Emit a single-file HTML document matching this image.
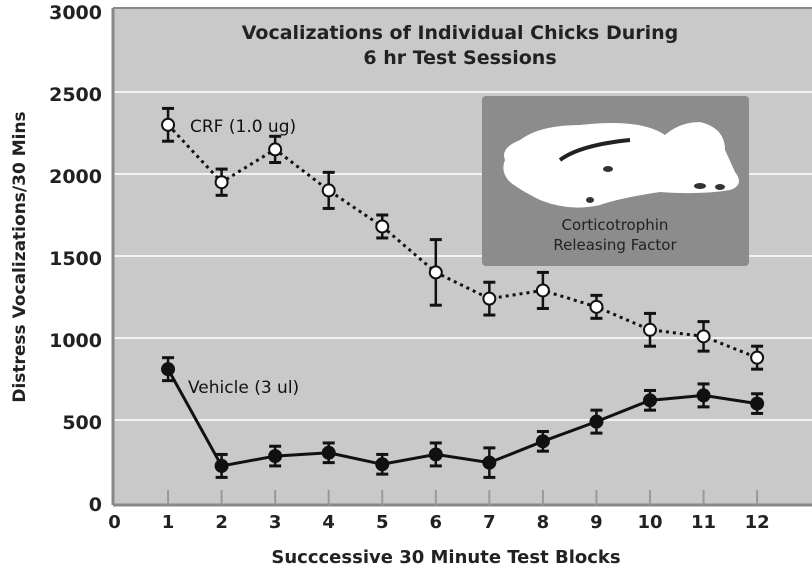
<!DOCTYPE html>
<html><head><meta charset="utf-8"><style>
body{margin:0;background:#fff;}
svg{display:block;font-family:"DejaVu Sans","Liberation Sans",sans-serif;}
</style></head><body>
<svg width="812" height="575" viewBox="0 0 812 575">
<rect x="113" y="8" width="699" height="497" fill="#c9c9c9"/>
<g stroke="#f2f2f2" stroke-width="2">
<line x1="113" y1="92" x2="812" y2="92"/><line x1="113" y1="174" x2="812" y2="174"/>
<line x1="113" y1="256" x2="812" y2="256"/><line x1="113" y1="338" x2="812" y2="338"/>
<line x1="113" y1="420" x2="812" y2="420"/>
</g>
<line x1="113" y1="8" x2="812" y2="8" stroke="#888" stroke-width="2"/>
<line x1="113" y1="8" x2="113" y2="505" stroke="#888" stroke-width="3"/>
<line x1="113" y1="505" x2="812" y2="505" stroke="#888" stroke-width="3"/>
<g stroke="#999" stroke-width="2" id="ticks"></g>
<text x="460" y="39" text-anchor="middle" font-size="19" font-weight="bold" fill="#222">Vocalizations of Individual Chicks During</text>
<text x="460" y="64" text-anchor="middle" font-size="19" font-weight="bold" fill="#222">6 hr Test Sessions</text>
<rect x="482" y="96" width="267" height="170" rx="4" fill="#8c8c8c"/>
<path d="M505 160 Q500 148 520 140 Q540 125 580 125 Q640 118 665 135 Q680 122 700 122 Q725 128 725 150 L735 172 Q745 185 730 190 Q700 195 660 192 Q620 198 600 205 Q570 212 540 200 Q520 190 510 182 Q500 172 505 160Z" fill="#fff"/>
<path d="M560 160 Q580 145 630 140" stroke="#222" stroke-width="4" fill="none"/>
<g fill="#333"><ellipse cx="608" cy="169" rx="5" ry="3"/><ellipse cx="700" cy="186" rx="6" ry="3"/><ellipse cx="720" cy="187" rx="5" ry="3"/><ellipse cx="590" cy="200" rx="4" ry="3"/></g>
<text x="615" y="230" text-anchor="middle" font-size="15" fill="#222">Corticotrophin</text>
<text x="615" y="250" text-anchor="middle" font-size="15" fill="#222">Releasing Factor</text>
<g id="data"></g>
<g font-size="19" font-weight="bold" fill="#222" text-anchor="end">
<text x="102" y="19">3000</text><text x="102" y="101">2500</text><text x="102" y="183">2000</text>
<text x="102" y="265">1500</text><text x="102" y="347">1000</text><text x="102" y="429">500</text><text x="102" y="511">0</text>
</g>
<g font-size="18" font-weight="bold" fill="#222" text-anchor="middle" id="xl"></g>
<text x="446" y="563" text-anchor="middle" font-size="18" font-weight="bold" fill="#222">Succcessive 30 Minute Test Blocks</text>
<text transform="translate(25,257) rotate(-90)" text-anchor="middle" font-size="17" font-weight="bold" fill="#222">Distress Vocalizations/30 Mins</text>
<text x="190" y="132" font-size="17" fill="#111">CRF (1.0 ug)</text>
<text x="188" y="393" font-size="17" fill="#111">Vehicle (3 ul)</text>
</svg>
<script>
var NS="http://www.w3.org/2000/svg";
function X(i){return 114.5+i*53.55;}function Y(v){return 502-v*0.164;}
function el(p,t,a){var e=document.createElementNS(NS,t);for(var k in a)e.setAttribute(k,a[k]);p.appendChild(e);return e;}
var tk=document.getElementById('ticks'),xl=document.getElementById('xl'),d=document.getElementById('data');
for(var i=0;i<=12;i++){if(i>0)el(tk,'line',{x1:X(i),y1:490,x2:X(i),y2:505});var t=el(xl,'text',{x:X(i),y:528});t.textContent=i;}
var crf=[[2300,100],[1950,80],[2150,80],[1900,110],[1680,70],[1400,200],[1240,100],[1290,110],[1190,70],[1050,100],[1010,90],[880,70]];
var veh=[[810,70],[220,70],[280,60],[300,60],[230,60],[290,70],[240,90],[370,60],[490,70],[620,60],[650,70],[600,60]];
function ser(s,dash,fill){var p=s.map(function(a,i){return X(i+1)+','+Y(a[0]);}).join(' ');
el(d,'polyline',{points:p,fill:'none',stroke:'#111','stroke-width':3,'stroke-dasharray':dash||''});
s.forEach(function(a,i){var x=X(i+1),y1=Y(a[0]+a[1]),y2=Y(a[0]-a[1]);
el(d,'line',{x1:x,y1:y1,x2:x,y2:y2,stroke:'#111','stroke-width':2.5});
el(d,'line',{x1:x-6,y1:y1,x2:x+6,y2:y1,stroke:'#111','stroke-width':3});
el(d,'line',{x1:x-6,y1:y2,x2:x+6,y2:y2,stroke:'#111','stroke-width':3});
el(d,'circle',{cx:x,cy:Y(a[0]),r:6,fill:fill,stroke:'#111','stroke-width':2});});}
ser(crf,'3,4','#fff');ser(veh,'','#111');
</script>
</body></html>
